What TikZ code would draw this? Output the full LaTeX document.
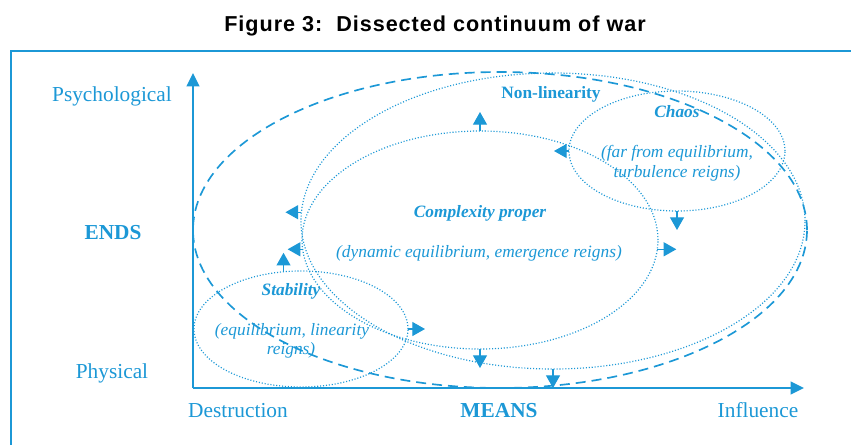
\documentclass[tikz,border=0pt]{standalone}
\usepackage{fontspec}
\setmainfont{Liberation Serif}
\newfontfamily\titlefont[LetterSpace=4.5]{Liberation Sans}
\usetikzlibrary{shapes.geometric,arrows.meta}
\definecolor{warblue}{RGB}{28,152,214}

\begin{document}
\begin{tikzpicture}[x=0.75pt,y=-0.75pt,
  every node/.style={text=warblue,inner sep=0pt,anchor=base},
  axislabel/.style={font=\fontsize{16}{19}\selectfont},
  regimetitle/.style={font=\bfseries\itshape\fontsize{13}{15}\selectfont},
  regimenote/.style={font=\itshape\fontsize{13}{15}\selectfont},
  regime/.style={shape=ellipse,draw=warblue,dash pattern=on 0.8pt off 1.4pt,line width=0.9pt,outer sep=0pt,anchor=center},
  envelope/.style={shape=ellipse,draw=warblue,dash pattern=on 7.5pt off 4.5pt,line width=1.25pt,outer sep=0pt,anchor=center},
  axis/.style={draw=warblue,line width=1.4pt,-{Triangle[length=10pt,width=9.5pt]}},
  flow/.style={draw=warblue,line width=0.9pt,-{Triangle[length=9.5pt,width=10.5pt]}}]
\useasboundingbox (0,0) rectangle (851,444);
\clip (0,0) rectangle (851,444);

% frame and title
\draw[warblue,line width=1.5pt] (11,470) |- (880,51);
\node[font=\titlefont\bfseries\fontsize{16.2}{19}\selectfont,text=black] (title) at (435,31) {Figure 3:\ \ Dissected continuum of war};

% axes
\coordinate (O) at (193,388);
\coordinate (ytip) at (193,73);
\coordinate (xtip) at (804,388);
\draw[axis] (O) -- (ytip);
\draw[axis] (O) -- (xtip);

\node[axislabel] (psy) at (112,101) {Psychological};
\node[axislabel,font=\bfseries\fontsize{16}{19}\selectfont] (ends) at (113,239) {ENDS};
\node[axislabel] (phys) at (112,378) {Physical};
\node[axislabel] (destr) at (238,417) {Destruction};
\node[axislabel,font=\bfseries\fontsize{16}{19}\selectfont] (means) at (499,417) {MEANS};
\node[axislabel] (infl) at (758,417) {Influence};

% regimes
\node[envelope,minimum width=460.5pt,minimum height=237pt] (cont) at (500,230) {};
\node[regime,minimum width=378pt,minimum height=222pt] (nonlin) at (553,221) {};
\node[regime,minimum width=267pt,minimum height=163.5pt] (cplx) at (480,240) {};
\node[regime,minimum width=160.5pt,minimum height=87pt] (stab) at (301,329) {};
\node[regime,minimum width=162pt,minimum height=90pt] (chaos) at (677,151) {};

\node[font=\bfseries\fontsize{13}{15}\selectfont] (nonlintxt) at (551,98) {Non-linearity};
\node[regimetitle] (chaostxt) at (677,117) {Chaos};
\node[regimenote] (chaosa) at (677,157) {(far from equilibrium,};
\node[regimenote] (chaosb) at (677,177) {turbulence reigns)};
\node[regimetitle] (cplxtxt) at (480,217) {Complexity proper};
\node[regimenote] (cplxa) at (479,257) {(dynamic equilibrium, emergence reigns)};
\node[regimetitle] (stabtxt) at (291,295) {Stability};
\node[regimenote] (staba) at (292,335) {(equilibrium, linearity};
\node[regimenote] (stabb) at (291,354) {reigns)};

% transitions
\draw[flow] (stab.107) -- ++(0,-19);
\draw[flow] (stab.east) -- ++(17,0);
\draw[flow] (cplx.north) -- ++(0,-19);
\draw[flow] (cplx.183) -- ++(-15,0);
\draw[flow] (cplx.-3) -- ++(19,0);
\draw[flow] (cplx.south) -- ++(0,19);
\draw[flow] (nonlin.178) -- ++(-16,0);
\draw[flow] (nonlin.south) -- ++(0,19);
\draw[flow] (chaos.west) -- ++(-15,0);
\draw[flow] (chaos.south) -- ++(0,19);
\end{tikzpicture}
\end{document}
